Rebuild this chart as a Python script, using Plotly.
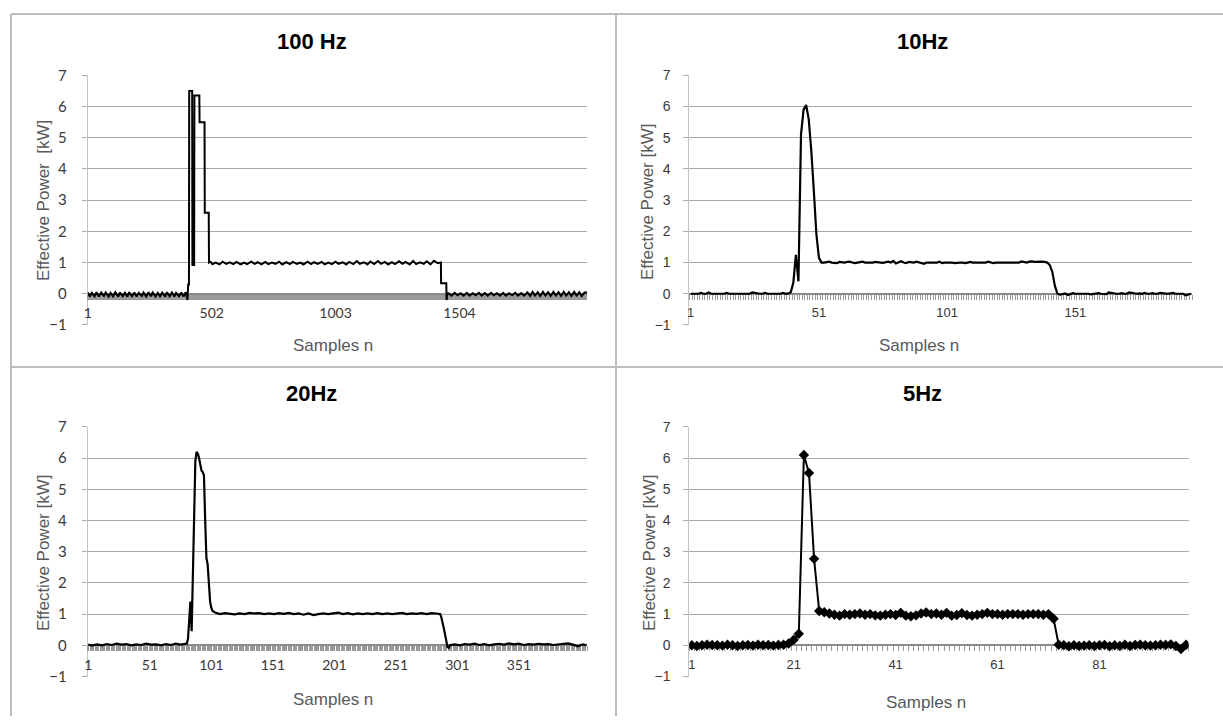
import plotly.graph_objects as go

# ---------------- data ----------------
panel_titles = ["100 Hz", "10Hz", "20Hz", "5Hz"]
y_titles = ["Effective Power  [kW]", "Effective Power [kW]", "Effective Power [kW]", "Effective Power [kW]"]
x_title = "Samples n"

n_samples_100 = 2020
n_samples_10 = 196
n_samples_20 = 406
n_samples_5 = 98

ticks_100 = [1, 502, 1003, 1504]
ticks_10 = [1, 51, 101, 151]
ticks_20 = [1, 51, 101, 151, 201, 251, 301, 351]
ticks_5 = [1, 21, 41, 61, 81]

# 100 Hz: vertices of the trace (sample, kW)
hz100_base_n = [1, 9, 17, 28, 36, 46, 55, 66, 73, 85, 93, 103, 112, 124, 131, 142, 151, 161, 168, 180,
                189, 198, 207, 219, 226, 237, 246, 256, 263, 275, 284, 293, 302, 314, 321, 332, 341, 351,
                358, 370, 379, 388, 397]
hz100_base_kw = [0.04, -0.09, 0.03, -0.08, 0.05, -0.09, 0.04, -0.07, 0.04, -0.09,
                 0.03, -0.08, 0.05, -0.09, 0.04, -0.08, 0.03, -0.09, 0.05, -0.08,
                 0.04, -0.09, 0.03, -0.07, 0.04, -0.09, 0.05, -0.08, 0.04, -0.09,
                 0.03, -0.08, 0.04, -0.09, 0.05, -0.08, 0.04, -0.09, 0.03, -0.08,
                 0.04, -0.09, 0.05]
hz100_event_n = [404, 407, 410, 411, 423, 424, 431, 432, 452, 453, 473, 474, 490, 491]
hz100_event_kw = [-0.2, 0.3, 0.3, 6.5, 6.5, 0.92, 0.92, 6.35, 6.35, 5.5, 5.5, 2.6, 2.6, 1.0]
hz100_plateau_n = [498, 505, 517, 534, 546, 561, 575, 590, 602, 619, 633, 645, 662, 676, 688, 703, 719, 731,
                   746, 760, 775, 787, 804, 818, 830, 847, 861, 873, 890, 904, 916, 931, 947, 959, 974, 988,
                   1003, 1015, 1032, 1046, 1058, 1075, 1089, 1101, 1118, 1132, 1144, 1159, 1175, 1187, 1202,
                   1216, 1231, 1243, 1260, 1274, 1286, 1303, 1317, 1329, 1344, 1360, 1372, 1387, 1401, 1416]
hz100_plateau_kw = [1.02, 0.95, 1.0, 0.94, 1.03, 0.96, 1.01, 0.95, 1.02, 0.94,
                    1.0, 0.95, 1.03, 0.96, 1.01, 0.94, 1.02, 0.95, 1.0, 0.96,
                    1.03, 0.94, 1.01, 0.95, 1.02, 0.96, 1.0, 0.94, 1.03, 0.95,
                    1.01, 0.96, 1.02, 0.94, 1.0, 0.95, 1.03, 0.96, 1.01, 0.94,
                    1.02, 0.95, 1.05, 0.96, 1.01, 0.94, 1.03, 0.95, 1.05, 0.96,
                    1.02, 0.94, 1.01, 0.95, 1.04, 0.96, 1.02, 0.94, 1.05, 0.95,
                    1.01, 0.96, 1.04, 0.94, 1.06, 0.98]
hz100_drop_n = [1429, 1430, 1451, 1452, 1456]
hz100_drop_kw = [1.0, 0.34, 0.34, -0.2, 0.02]
hz100_tail_n = [1460, 1472, 1485, 1496, 1509, 1521, 1534, 1545, 1558, 1570, 1583, 1594, 1607, 1619, 1632,
                1643, 1656, 1668, 1681, 1692, 1705, 1717, 1730, 1741, 1754, 1766, 1779, 1790, 1800, 1810,
                1821, 1831, 1842, 1852, 1863, 1873, 1884, 1894, 1905, 1915, 1926, 1936, 1947, 1957, 1968,
                1978, 1989, 1999, 2010, 2020]
hz100_tail_kw = [0.02, -0.06, 0.03, -0.05, 0.02, -0.06, 0.03, -0.06, 0.02, -0.05,
                 0.03, -0.06, 0.02, -0.06, 0.03, -0.05, 0.02, -0.06, 0.03, -0.06,
                 0.02, -0.05, 0.03, -0.06, 0.02, -0.06, 0.05, -0.07, 0.06, -0.06,
                 0.05, -0.07, 0.06, -0.06, 0.05, -0.07, 0.06, -0.06, 0.05, -0.07,
                 0.06, -0.06, 0.05, -0.07, 0.06, -0.06, 0.05, -0.07, 0.04, 0.04]

# 10 Hz: one value per sample (samples 1..196)
hz10_kw = [0, 0, 0.02, 0, 0.03, 0, 0, 0.04, 0, 0,
           0.01, 0, 0, 0, 0.03, 0, 0, 0, 0, 0.02,
           0, 0, 0, 0, 0.04, 0.02, 0, 0, 0, 0.03,
           0, 0, 0, 0.02, 0, 0, 0.03, 0, 0.01,
           0.05, 0.35, 1.25, 0.4, 5.1, 5.9, 6.05, 5.6, 4.6, 3.3, 1.9, 1.15,
           1.0, 1.0, 1.02, 1.03, 1.0, 0.99, 0.98, 1.02, 1.0, 1.0,
           1.02, 1.03, 1.0, 0.98, 1.0, 1.01, 1.03, 1.0, 1.0, 0.98,
           1.0, 1.02, 1.0, 1.0, 0.99, 1.0, 1.03, 1.0, 1.05, 0.97,
           1.0, 1.04, 1.0, 0.98, 1.02, 1.0, 1.0, 1.03, 1.0, 0.98,
           0.96, 1.0, 1.0, 1.02, 1.0, 1.0, 1.03, 0.98, 1.0, 1.0,
           1.02, 1.0, 0.98, 1.0, 1.0, 1.0, 0.98, 1.0, 1.02, 1.0,
           1.0, 1.0, 0.99, 1.0, 1.0, 1.03, 1.0, 0.98, 1.0, 1.0,
           1.0, 1.0, 1.0, 1.0, 1.02, 1.0, 1.0, 1.0, 1.04, 1.02,
           1.0, 1.03, 1.04, 1.02, 1.03, 1.04, 1.03, 1.02,
           1.0, 0.92, 0.7, 0.25, 0.0,
           -0.03, 0, 0.01, -0.04, 0, 0.02, 0, -0.01, 0, 0,
           0.01, 0, -0.02, 0, 0, 0.02, 0, 0, -0.01, 0.04,
           0.02, 0, 0, 0, 0.02, 0, 0, 0.04, 0.03, 0,
           0, 0.01, 0, 0.03, 0, 0, 0.02, 0, 0, 0.03,
           0.02, 0, 0, 0.01, 0.03, 0, 0, 0.02, 0, -0.05,
           -0.03, 0]

# 20 Hz: vertices of the trace (sample, kW)
hz20_n = [1, 4, 8, 12, 16, 20, 24, 28, 32, 36, 40, 44, 48, 52, 56, 60, 64, 68, 72, 76, 80,
          81, 82, 83, 84, 85, 86, 87, 88, 89, 90, 91, 92, 93, 94, 95, 96, 97, 98, 99, 100, 101, 102,
          104, 108, 112, 116, 120, 124, 128, 132, 136, 140, 144, 148, 152, 156, 160, 164, 168, 172, 176, 180,
          184, 188, 192, 196, 200, 204, 208, 212, 216, 220, 224, 228, 232, 236, 240, 244, 248, 252, 256, 260,
          264, 268, 272, 276, 280, 284,
          287, 288, 289, 290, 291, 292, 293, 294, 295,
          299, 303, 307, 311, 315, 319, 323, 327, 331, 335, 339, 343, 347, 351, 355, 359, 363, 367, 371, 375,
          379, 383, 387, 391, 395, 399, 403, 406]
hz20_kw = [0.02, -0.01, 0.03, 0.0, 0.04, 0.01, 0.05, 0.02, 0.04, 0.0, 0.03, 0.01, 0.05, 0.02, 0.03, 0.0,
           0.04, 0.01, 0.05, 0.02, 0.05,
           0.05, 0.2, 1.0, 1.4, 0.45, 2.5, 4.5, 5.9, 6.2, 6.15, 6.0, 5.8, 5.6, 5.55, 5.45, 4.0, 2.8, 2.6,
           2.0, 1.4, 1.2, 1.1,
           1.05, 1.0, 1.03, 1.0, 0.99, 1.02, 1.0, 1.04, 1.02, 1.03,
           1.0, 1.02, 1.0, 1.03, 1.01, 1.04, 1.0, 1.02, 0.98, 1.02,
           0.97, 1.0, 1.02, 1.0, 1.03, 1.05, 1.0, 1.03, 0.99, 1.02,
           1.0, 1.02, 1.0, 1.03, 1.0, 1.02, 1.0, 1.02, 1.04, 1.0,
           1.02, 1.01, 1.03, 1.0, 1.03, 1.02,
           1.0, 0.9, 0.75, 0.55, 0.35, 0.15, -0.05, -0.08, 0.0,
           0.03, 0.0, 0.04, 0.02, 0.05, 0.01, 0.04, 0.0, 0.03, 0.05,
           0.02, 0.06, 0.03, 0.05, 0.01, 0.04, 0.02, 0.05, 0.03, 0.04,
           0.01, 0.03, 0.05, 0.06, 0.02, -0.03, 0.03, 0.0]

# 5 Hz: one value per sample (samples 1..98)
hz5_kw = [0, -0.02, 0, 0.02, 0.01, 0, -0.01, 0.02, 0, -0.02,
          0, 0.01, -0.01, 0.02, 0, 0.01, -0.01, 0.01, 0.02,
          0.06, 0.18, 0.37, 6.1, 5.52, 2.77, 1.1,
          1.06, 1.02, 0.98, 0.95, 1.0, 0.98, 1.0, 1.02, 0.98, 1.0,
          0.96, 0.95, 0.98, 1.0, 0.97, 1.04, 0.95, 0.93, 0.96, 1.02,
          1.05, 1.0, 1.02, 0.98, 1.04, 0.95, 0.97, 1.03, 0.97, 0.95,
          0.98, 1.0, 1.04, 1.0, 1.0, 0.98, 1.0, 1.0, 1.0, 0.98,
          1.0, 1.0, 1.0, 0.98, 1.0,
          0.85, 0.02,
          0, -0.03, 0, -0.02, -0.01, 0, -0.02, 0, 0.01, -0.03,
          0, -0.02, 0.02, -0.02, 0.01, 0.02, 0, -0.01, 0, 0.02,
          0.01, 0.03, -0.02, -0.12, 0.02]

y_ticks = [-1, 0, 1, 2, 3, 4, 5, 6, 7]

# ---------------- layout helpers (pixel -> paper) ----------------
W, H = 1223, 724


def fx(x):
    return x / W


def fy(y):
    return 1 - y / H


GRID = "#a8a8a8"
AXIS = "#8a8a8a"
TXT = "#383838"

fig = go.Figure()

hz100_n = hz100_base_n + hz100_event_n + hz100_plateau_n + hz100_drop_n + hz100_tail_n
hz100_kw = hz100_base_kw + hz100_event_kw + hz100_plateau_kw + hz100_drop_kw + hz100_tail_kw

fig.add_trace(go.Scatter(x=hz100_n, y=hz100_kw, mode="lines",
                         line=dict(color="black", width=2.0), xaxis="x", yaxis="y", showlegend=False))
fig.add_trace(go.Scatter(x=list(range(1, len(hz10_kw) + 1)), y=hz10_kw, mode="lines",
                         line=dict(color="black", width=2.2), xaxis="x2", yaxis="y2", showlegend=False))
fig.add_trace(go.Scatter(x=hz20_n, y=hz20_kw, mode="lines",
                         line=dict(color="black", width=2.2), xaxis="x3", yaxis="y3", showlegend=False))
fig.add_trace(go.Scatter(x=list(range(1, len(hz5_kw) + 1)), y=hz5_kw, mode="lines+markers",
                         line=dict(color="black", width=2.0),
                         marker=dict(symbol="diamond", size=8, color="black"),
                         xaxis="x4", yaxis="y4", showlegend=False))

# panel geometry in pixels: plot left, right, y of 7, y of -1
NARROW = "Liberation Sans Narrow, Liberation Sans"
panels = [
    dict(l=84, r=585, t=67, b=323, n=n_samples_100, ticks=ticks_100, mdt=3, font="Lato", fs=14, sto=12,
         title_xy=(309, 32), xt_xy=(330, 344), yt_xy=(39, 195)),
    dict(l=687.7, r=1192, t=67, b=323, n=n_samples_10, ticks=ticks_10, mdt=1, font=NARROW, fs=13, sto=10,
         title_xy=(922, 32), xt_xy=(918, 344), yt_xy=(645, 196)),
    dict(l=84, r=585, t=427.5, b=683.5, n=n_samples_20, ticks=ticks_20, mdt=1, font="Lato", fs=14, sto=12,
         title_xy=(309, 393), xt_xy=(330, 707), yt_xy=(39, 556)),
    dict(l=687.5, r=1188.5, t=427.5, b=683.5, n=n_samples_5, ticks=ticks_5, mdt=1, font=NARROW, fs=13, sto=10,
         title_xy=(922, 393), xt_xy=(925, 710), yt_xy=(647, 556)),
]

annotations = []
for i, p in enumerate(panels):
    s = "" if i == 0 else str(i + 1)
    y0px = p["t"] + (p["b"] - p["t"]) * 7 / 8
    fig.layout["xaxis" + s] = dict(
        domain=[fx(p["l"]), fx(p["r"])], range=[0.5, p["n"] + 0.5], anchor="free", position=fy(y0px),
        tickmode="array", tickvals=p["ticks"], ticktext=[str(v) for v in p["ticks"]], ticks="",
        showline=True, linecolor=AXIS, linewidth=1.5, showgrid=False, zeroline=False,
        minor=dict(ticks="outside", ticklen=5, tickwidth=1, tickcolor="#9a9a9a", tickmode="linear",
                   tick0=0.5, dtick=p["mdt"], showgrid=False),
        ticklabelstandoff=7, tickfont=dict(family=p["font"], size=p["fs"], color=TXT),
        layer="below traces", fixedrange=True)
    fig.layout["yaxis" + s] = dict(
        domain=[fy(p["b"]), fy(p["t"])], range=[-1, 7], tickmode="array", tickvals=y_ticks,
        showgrid=True, gridcolor=GRID, gridwidth=1.3, zeroline=False, anchor="x" + s,
        ticks="outside", ticklen=5, tickcolor=GRID, tickwidth=1.3,
        showline=True, linecolor="#c4c4c4", linewidth=1,
        ticklabelstandoff=p["sto"], tickfont=dict(family=p["font"], size=p["fs"] + 1, color=TXT),
        layer="below traces", fixedrange=True)
    annotations.append(dict(x=fx(p["title_xy"][0]), y=fy(p["title_xy"][1]), xref="paper", yref="paper",
                            text="<b>%s</b>" % panel_titles[i], showarrow=False,
                            font=dict(family="Liberation Sans", size=22, color="black"),
                            xanchor="center", yanchor="middle"))
    annotations.append(dict(x=fx(p["xt_xy"][0]), y=fy(p["xt_xy"][1]), xref="paper", yref="paper",
                            text=x_title, showarrow=False,
                            font=dict(family="Liberation Sans", size=17, color="#595959"),
                            xanchor="center", yanchor="middle"))
    annotations.append(dict(x=fx(p["yt_xy"][0]), y=fy(p["yt_xy"][1]), xref="paper", yref="paper",
                            text=y_titles[i], showarrow=False, textangle=-90,
                            font=dict(family="Liberation Sans", size=17, color="#595959"),
                            xanchor="center", yanchor="middle"))

BORDER = "#bdbdbd"
shapes = [
    dict(type="line", xref="paper", yref="paper", x0=fx(7), x1=1, y0=fy(4), y1=fy(4), line=dict(color=BORDER, width=2)),
    dict(type="line", xref="paper", yref="paper", x0=fx(7), x1=fx(7), y0=fy(4), y1=0, line=dict(color=BORDER, width=2)),
    dict(type="line", xref="paper", yref="paper", x0=fx(614), x1=fx(614), y0=fy(4), y1=0, line=dict(color=BORDER, width=2)),
    dict(type="line", xref="paper", yref="paper", x0=fx(7), x1=1, y0=fy(366), y1=fy(366), line=dict(color=BORDER, width=2)),
]

fig.update_layout(width=W, height=H, margin=dict(l=0, r=0, t=0, b=0), paper_bgcolor="white",
                  plot_bgcolor="white", annotations=annotations, shapes=shapes, showlegend=False)

fig.write_html("out.html")
